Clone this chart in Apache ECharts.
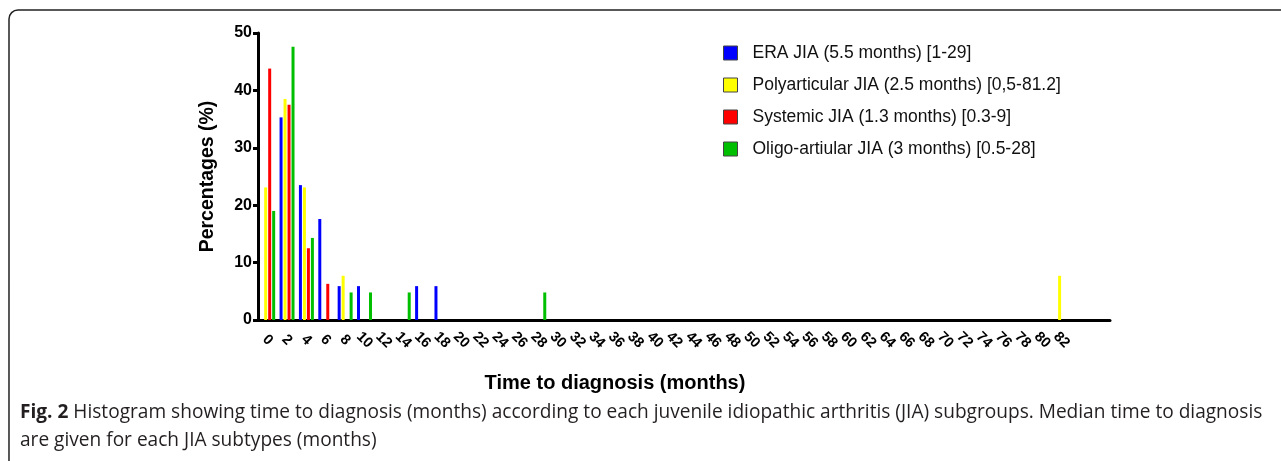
<!DOCTYPE html>
<html lang="en">
<head>
    <meta charset="UTF-8">
    <title>Time to diagnosis</title>
    <script src="https://cdn.jsdelivr.net/npm/echarts@6/dist/echarts.min.js"></script>
</head>
<body style="margin:0;background:#fff">
<div id="chart" style="width:1281px;height:461px"></div>
<script>
    // x categories: months, step 2 (last two only pad the axis)
    var months = [];
    for (var m = 0; m <= 86; m += 2) months.push(m);
    var lastLabel = 82;

    var seriesNames = [
        'ERA JIA (5.5 months) [1-29]',
        'Polyarticular JIA (2.5 months) [0,5-81.2]',
        'Systemic JIA (1.3 months) [0.3-9]',
        'Oligo-artiular JIA (3 months) [0.5-28]'
    ];
    var seriesColors = ['#0000ff', '#ffff00', '#ff0000', '#00bf00'];

    // [month, percentage]
    var eraData = [[2, 35.3], [4, 23.5], [6, 17.6], [8, 5.9], [10, 5.9], [16, 5.9], [18, 5.9]];
    var polyData = [[0, 23.1], [2, 38.5], [4, 23.1], [8, 7.7], [82, 7.7]];
    var systemicData = [[0, 43.8], [2, 37.5], [4, 12.5], [6, 6.3]];
    var oligoData = [[0, 19.0], [2, 47.6], [4, 14.3], [8, 4.8], [10, 4.8], [14, 4.8], [28, 4.8]];

    var yTicks = [0, 10, 20, 30, 40, 50];

    function toCategories(pairs) {
        var arr = months.map(function () { return 0; });
        pairs.forEach(function (p) {
            arr[months.indexOf(p[0])] = p[1];
        });
        return arr;
    }

    var allData = [eraData, polyData, systemicData, oligoData];

    var series = allData.map(function (d, i) {
        return {
            name: seriesNames[i],
            type: 'bar',
            data: toCategories(d),
            barWidth: 3,
            barGap: '33%',
            itemStyle: {color: seriesColors[i]}
        };
    });

    var myChart = echarts.init(document.getElementById('chart'));

    var option = {
        backgroundColor: '#fff',
        animation: false,
        textStyle: {fontFamily: 'Liberation Sans, Arial, sans-serif'},
        grid: {left: 258, right: 171, top: 33, bottom: 141, containLabel: false},
        legend: {
            orient: 'vertical',
            left: 718,
            top: 39,
            itemWidth: 14,
            itemHeight: 14,
            itemGap: 14,
            icon: 'rect',
            itemStyle: {borderColor: '#444', borderWidth: 1},
            textStyle: {fontSize: 17.5, color: '#111', padding: [0, 0, 0, 10]},
            data: seriesNames
        },
        xAxis: {
            type: 'category',
            data: months,
            name: 'Time to diagnosis (months)',
            nameLocation: 'middle',
            nameGap: 53,
            nameTextStyle: {fontSize: 20, fontWeight: 'bold', color: '#000', padding: [0, 138, 0, 0]},
            axisLine: {lineStyle: {color: '#000', width: 3}},
            axisTick: {
                alignWithLabel: true,
                length: 4,
                lineStyle: {color: '#000', width: 3},
                interval: function (i, v) { return +v <= lastLabel; }
            },
            axisLabel: {
                interval: 0,
                rotate: -45,
                align: 'center',
                verticalAlign: 'middle',
                margin: 20,
                fontSize: 14.5,
                fontWeight: 'bold',
                color: '#000',
                formatter: function (v) { return +v <= lastLabel ? v : ''; }
            }
        },
        yAxis: {
            type: 'value',
            min: 0,
            max: 50,
            interval: 10,
            name: 'Percentages (%)',
            nameLocation: 'middle',
            nameGap: 40,
            nameTextStyle: {fontSize: 19.5, fontWeight: 'bold', color: '#000'},
            splitLine: {show: false},
            axisLine: {show: true, lineStyle: {color: '#000', width: 3}},
            axisTick: {show: true, length: 5, lineStyle: {color: '#000', width: 3}},
            axisLabel: {
                margin: 6,
                fontSize: 16,
                fontWeight: 'bold',
                color: '#000',
                customValues: yTicks
            }
        },
        graphic: [
            {
                type: 'rect',
                silent: true,
                shape: {x: 9, y: 10, width: 1300, height: 500, r: 9},
                style: {fill: 'none', stroke: '#222', lineWidth: 1.5}
            },
            {
                type: 'text',
                left: 20,
                top: 399,
                style: {
                    text: '{b|Fig. 2} Histogram showing time to diagnosis (months) according to each juvenile idiopathic arthritis (JIA) subgroups. Median time to diagnosis\nare given for each JIA subtypes (months)',
                    font: '19.1px "Open Sans", sans-serif',
                    fill: '#231f20',
                    lineHeight: 28,
                    rich: {
                        b: {font: 'bold 19.1px "Open Sans", sans-serif', fill: '#231f20'}
                    }
                }
            }
        ],
        series: series
    };

    myChart.setOption(option);
</script>
</body>
</html>
